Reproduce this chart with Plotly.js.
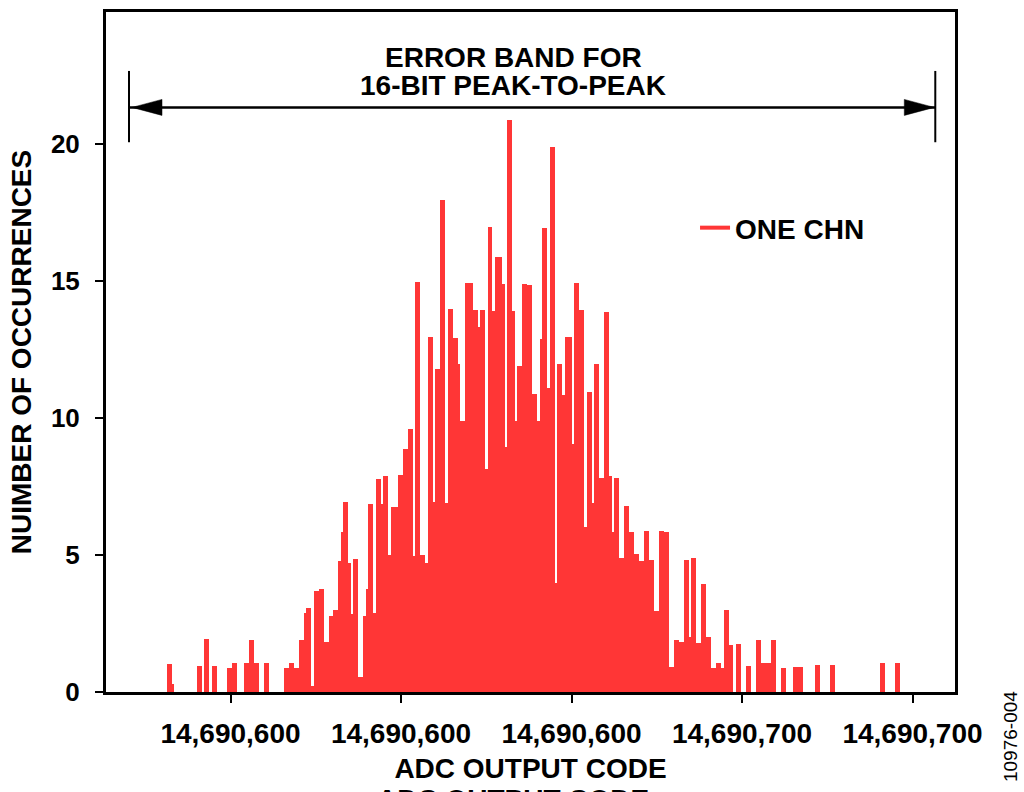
<!DOCTYPE html>
<html>
<head>
<meta charset="utf-8">
<script src="https://cdn.plot.ly/plotly-3.0.1.min.js"></script>
<style>
  html, body { margin: 0; padding: 0; background: #ffffff; }
  #chart { width: 1024px; height: 792px; }
</style>
</head>
<body>
<div id="chart"></div>
<script>
// ---- Data ----
// Histogram bins: first bin left edge (ADC code) and bin width (codes)
const binStart = 14690565.69;
const binWidth = 0.3643;

// Number of occurrences per bin, left to right
const occurrences = [
  1.01, 1.01, 0.29, 0, 0, 0, 0, 0, 0, 0, 0, 0,
  0.94, 0.94, 0, 1.92, 1.92, 0, 0.94, 0.94, 0, 0, 0, 0,
  0.89, 0.89, 1.05, 1.05, 0, 0, 0, 1.05, 1.05, 1.89, 1.89, 1.05, 1.05,
  0, 0, 1.05, 1.05, 0, 0, 0, 0, 0, 0,
  0.86, 0.86, 1.05, 1.05, 0.86, 0.86, 1.88, 1.88, 2.88, 3.08, 3.08, 0.23,
  3.67, 3.67, 3.76, 3.76, 1.84, 1.84, 2.79, 2.79, 2.98, 2.98, 4.78, 5.84,
  6.93, 6.93, 4.71, 2.85, 4.84, 4.84, 0.54, 0.54, 2.76, 3.74, 6.85, 6.85,
  2.87, 7.77, 7.77, 6.86, 7.86, 7.86, 5.0, 6.74, 6.74, 6.74, 7.92, 7.92,
  8.85, 8.85, 9.58, 9.58, 4.96,
  14.96, 14.96, 5.0, 5.0, 4.72, 12.94, 12.94, 6.94, 11.77, 11.77, 17.94, 17.94,
  6.88, 13.96, 13.96, 12.9, 12.9, 11.95, 9.88, 9.88, 14.93, 14.93, 14.93,
  13.92, 13.92, 13.31, 13.92, 13.92, 8.15, 16.95, 16.95, 13.88, 15.86, 15.86, 15.86,
  14.88, 8.93, 20.85, 20.85, 13.88, 9.87, 11.88, 11.88, 14.89, 14.89, 14.84, 14.84,
  10.86, 10.86, 9.87, 12.87, 16.92, 16.92, 11.08, 19.86, 19.86, 3.97, 11.98, 11.98,
  10.85, 12.94, 12.94, 12.94, 9.03, 14.93, 14.93, 13.93, 13.93, 6.0, 10.94, 10.94,
  6.88, 11.95, 11.95, 7.82, 7.82, 13.85, 13.85, 7.88, 5.85, 7.8, 7.8, 4.9, 4.9,
  6.79, 6.79, 5.85, 5.85, 5.03, 5.03, 4.78, 4.78, 5.86, 5.86, 4.83, 4.83,
  2.96, 2.96, 5.87, 5.87, 5.85, 5.85, 0.9, 0.9, 1.91, 1.91, 1.82, 1.82,
  4.82, 4.82, 2.02, 4.89, 4.89, 1.8, 1.8, 3.94, 3.94, 2.02, 2.02, 0.86, 0.86,
  1.05, 1.05, 0.87, 2.98, 2.98, 1.73, 1.73, 0, 1.76, 1.76, 0, 0, 0.94, 0.94,
  0, 0, 1.91, 1.91, 1.05, 1.05, 1.05, 1.05, 1.91, 1.91, 0, 0, 0.89, 0.89,
  0, 0, 0, 0.93, 0.93, 0.93, 0.93, 0, 0, 0, 0, 0, 0.97, 0.97, 0, 0, 0, 0,
  0.97, 0.97, 0, 0, 0, 0, 0, 0, 0, 0, 0, 0, 0, 0, 0, 0, 0, 0, 0, 0,
  1.05, 1.05, 0, 0, 0, 0, 1.05, 1.05
];

// Axis ticks (labels as printed on the original, rounded to hundreds)
const xTickValues = [14690575, 14690600, 14690625, 14690650, 14690675];
const xTickLabels = ['14,690,600', '14,690,600', '14,690,600', '14,690,700', '14,690,700'];
const yTickValues = [0, 5, 10, 15, 20];

// 16-bit peak-to-peak error band edges (ADC code) and marker heights
const bandEdges = [14690560.12, 14690678.34];
const bandArrowLevel = 21.32;
const bandMarkerLow = 20.05;
const bandMarkerHigh = 22.65;

const seriesName = 'ONE CHN';
const barColor = '#ff3636';
const FONT = 'Liberation Sans, Arial, Helvetica, sans-serif';

const traces = [
  {
    type: 'bar',
    x0: binStart + binWidth / 2,
    dx: binWidth,
    y: occurrences,
    marker: { color: barColor, line: { width: 0 } },
    showlegend: false,
    hoverinfo: 'skip'
  },
  {
    type: 'scatter',
    mode: 'lines',
    x: [null],
    y: [null],
    name: seriesName,
    line: { color: barColor, width: 4 },
    showlegend: true,
    hoverinfo: 'skip'
  }
];

const axisFont = { family: FONT, size: 28, color: '#000', weight: 'bold' };

const layout = {
  width: 1024,
  height: 792,
  margin: { l: 106, r: 69, t: 12, b: 100 },
  paper_bgcolor: '#ffffff',
  plot_bgcolor: '#ffffff',
  bargap: 0,
  showlegend: true,
  font: { family: FONT, color: '#000' },
  legend: {
    x: 0.6938, y: 0.6824, xanchor: 'left', yanchor: 'middle',
    bgcolor: 'rgba(0,0,0,0)', borderwidth: 0,
    font: { family: FONT, size: 28, color: '#000', weight: 'bold' },
    itemwidth: 30
  },
  xaxis: {
    range: [14690556.745, 14690681.23],
    tickmode: 'array',
    tickvals: xTickValues,
    ticktext: xTickLabels,
    ticks: 'outside', ticklen: 8, tickwidth: 2, tickcolor: '#000',
    ticklabelstandoff: 6,
    tickfont: axisFont,
    showline: true, linecolor: '#000', linewidth: 3, mirror: true,
    showgrid: false, zeroline: false,
    title: { text: 'ADC OUTPUT CODE', font: axisFont, standoff: 11 }
  },
  yaxis: {
    range: [0, 24.8],
    tickmode: 'array',
    tickvals: yTickValues,
    ticks: 'outside', ticklen: 8, tickwidth: 2, tickcolor: '#000',
    ticklabelstandoff: 10,
    tickfont: { family: FONT, size: 26, color: '#000', weight: 'bold' },
    showline: true, linecolor: '#000', linewidth: 3, mirror: true,
    showgrid: false, zeroline: false,
    title: { text: 'NUIMBER OF OCCURRENCES', font: axisFont, standoff: 12 }
  },
  yaxis2: {
    overlaying: 'y', matches: 'y', side: 'left',
    tickmode: 'array', tickvals: yTickValues,
    ticks: 'inside', ticklen: 8, tickwidth: 2, tickcolor: '#000',
    showticklabels: false, showline: false, showgrid: false, zeroline: false
  },
  shapes: [
    { type: 'line', xref: 'x', yref: 'y', x0: bandEdges[0], x1: bandEdges[0], y0: bandMarkerLow, y1: bandMarkerHigh, line: { color: '#000', width: 2 } },
    { type: 'line', xref: 'x', yref: 'y', x0: bandEdges[1], x1: bandEdges[1], y0: bandMarkerLow, y1: bandMarkerHigh, line: { color: '#000', width: 2 } },
    { type: 'line', xref: 'x', yref: 'y', x0: bandEdges[0], x1: bandEdges[1], y0: bandArrowLevel, y1: bandArrowLevel, line: { color: '#000', width: 2.5 } },
    { type: 'path', xref: 'x', yref: 'y', xsizemode: 'pixel', ysizemode: 'pixel',
      xanchor: bandEdges[0], yanchor: bandArrowLevel,
      path: 'M 3 0 L 33 8 L 33 -8 Z', fillcolor: '#000', line: { color: '#000', width: 0.5 } },
    { type: 'path', xref: 'x', yref: 'y', xsizemode: 'pixel', ysizemode: 'pixel',
      xanchor: bandEdges[1], yanchor: bandArrowLevel,
      path: 'M -1 0 L -31 8 L -31 -8 Z', fillcolor: '#000', line: { color: '#000', width: 0.5 } }
  ],
  annotations: [
    { text: 'ERROR BAND FOR', xref: 'paper', yref: 'paper', x: 0.4794, y: 0.9338,
      xanchor: 'center', yanchor: 'middle', showarrow: false, font: axisFont },
    { text: '16-BIT PEAK-TO-PEAK', xref: 'paper', yref: 'paper', x: 0.4794, y: 0.8919,
      xanchor: 'center', yanchor: 'middle', showarrow: false, font: axisFont },
    { text: '10976-004', xref: 'paper', yref: 'paper', x: 1.0648, y: -0.0662,
      xanchor: 'center', yanchor: 'middle', textangle: -90, showarrow: false,
      font: { family: FONT, size: 19, color: '#000' } },
    { text: 'ADC OUTPUT CODE', xref: 'paper', yref: 'paper', x: 0.4794, y: -0.158,
      xanchor: 'center', yanchor: 'middle', showarrow: false, font: axisFont }
  ]
};

Plotly.newPlot('chart', traces, layout, { staticPlot: true, displayModeBar: false });
</script>
</body>
</html>
